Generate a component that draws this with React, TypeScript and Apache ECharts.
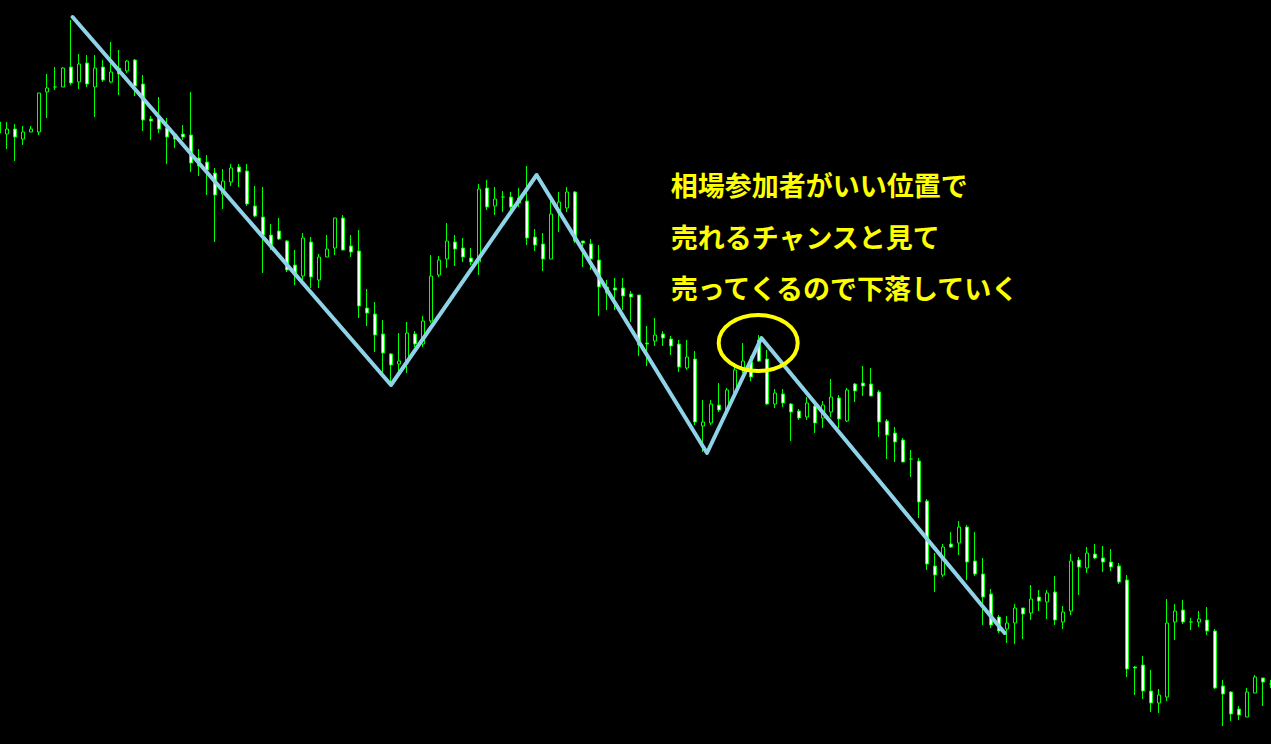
import React, { useEffect, useRef } from "react";
import * as echarts from "echarts";

// Price data (JPY-like quotes), one entry per candle, left to right
const openPrices = [
  118.78, 118.66, 118.71, 118.61, 118.68, 118.68, 119.08, 119.13, 119.13, 119.33,
  119.18, 119.37, 119.13, 119.33, 119.18, 119.32, 119.29, 119.40, 119.16, 118.81,
  118.83, 118.72, 118.66, 118.66, 118.65, 118.42, 118.38, 118.27, 118.06, 118.18,
  118.33, 118.29, 117.94, 117.83, 117.65, 117.69, 117.59, 117.35, 117.24, 117.58,
  117.20, 117.43, 117.52, 117.82, 117.54, 117.49, 116.92, 116.86, 116.66, 116.46,
  116.36, 116.37, 116.66, 116.56, 116.79, 117.25, 117.41, 117.58, 117.52, 117.42,
  117.38, 118.12, 117.94, 118.03, 118.03, 118.02, 117.99, 117.63, 117.56, 117.41,
  117.87, 117.92, 118.08, 117.59, 117.56, 117.40, 117.13, 117.12, 117.12, 117.06,
  117.05, 116.57, 116.59, 116.66, 116.61, 116.56, 116.32, 116.41, 115.74, 115.77,
  115.95, 115.90, 116.07, 116.32, 116.38, 116.60, 116.41, 115.96, 116.06, 115.96,
  115.89, 115.83, 115.94, 115.82, 115.88, 116.02, 115.79, 116.16, 116.17, 116.16,
  116.08, 115.79, 115.67, 115.60, 115.41, 115.39, 114.99, 114.34, 114.25, 114.56,
  114.57, 114.73, 114.39, 114.26, 114.06, 113.83, 113.71, 113.77, 113.92, 113.87,
  114.03, 113.98, 114.08, 113.78, 113.89, 114.40, 114.32, 114.46, 114.42, 114.38,
  114.34, 114.20, 113.33, 113.35, 113.09, 112.97, 113.03, 113.78, 113.90, 113.78,
  113.78, 113.80, 113.69, 113.14, 113.08, 112.91, 112.83, 113.07, 113.22, 113.16,
];
const closePrices = [
  118.67, 118.71, 118.63, 118.68, 118.71, 119.07, 119.12, 119.13, 119.32, 119.17,
  119.36, 119.16, 119.32, 119.20, 119.28, 119.26, 119.39, 119.14, 118.80, 118.79,
  118.71, 118.63, 118.61, 118.63, 118.37, 118.34, 118.30, 118.05, 118.19, 118.32,
  118.28, 117.96, 117.84, 117.65, 117.55, 117.61, 117.30, 117.25, 117.62, 117.23,
  117.43, 117.51, 117.82, 117.50, 117.48, 116.94, 116.87, 116.65, 116.47, 116.35,
  116.39, 116.67, 116.56, 116.79, 117.24, 117.40, 117.59, 117.51, 117.43, 117.38,
  118.11, 117.93, 118.01, 118.03, 117.93, 117.97, 117.62, 117.55, 117.41, 117.86,
  117.98, 118.08, 117.59, 117.57, 117.41, 117.13, 117.07, 117.10, 117.04, 117.03,
  116.55, 116.56, 116.65, 116.62, 116.54, 116.33, 116.43, 115.78, 115.78, 115.96,
  115.90, 116.10, 116.30, 116.39, 116.23, 116.39, 115.96, 116.07, 115.97, 115.88,
  115.82, 115.97, 115.77, 115.95, 116.03, 115.81, 116.10, 116.09, 116.14, 116.04,
  115.78, 115.65, 115.58, 115.38, 115.41, 114.98, 114.36, 114.25, 114.53, 114.53,
  114.73, 114.38, 114.26, 114.03, 113.75, 113.69, 113.77, 113.92, 113.86, 114.01,
  113.99, 114.07, 113.80, 113.88, 114.39, 114.33, 114.47, 114.42, 114.38, 114.33,
  114.18, 113.31, 113.32, 113.09, 112.97, 113.05, 113.77, 113.89, 113.78, 113.78,
  113.81, 113.69, 113.12, 113.06, 112.86, 112.85, 113.08, 113.23, 113.18, 113.16,
];
const lowPrices = [
  118.64, 118.51, 118.39, 118.55, 118.68, 118.65, 118.82, 119.10, 119.13, 119.15,
  119.11, 119.13, 118.83, 119.18, 119.17, 119.05, 119.27, 119.04, 118.69, 118.60,
  118.67, 118.36, 118.52, 118.60, 118.28, 118.24, 118.05, 117.58, 117.91, 118.14,
  118.13, 117.94, 117.83, 117.27, 117.50, 117.60, 117.28, 117.15, 117.20, 117.12,
  117.12, 117.43, 117.45, 117.50, 117.43, 116.82, 116.74, 116.48, 116.27, 116.17,
  116.28, 116.27, 116.53, 116.53, 116.77, 117.23, 117.32, 117.34, 117.38, 117.35,
  117.25, 117.90, 117.85, 117.88, 117.88, 117.93, 117.55, 117.49, 117.29, 117.41,
  117.68, 117.88, 117.57, 117.33, 117.30, 116.84, 116.90, 116.90, 116.90, 116.78,
  116.44, 116.34, 116.54, 116.54, 116.45, 116.28, 116.30, 115.75, 115.48, 115.75,
  115.88, 115.88, 116.05, 116.27, 116.19, 116.38, 115.95, 115.92, 115.93, 115.59,
  115.80, 115.80, 115.67, 115.72, 115.83, 115.72, 115.78, 115.98, 116.04, 116.04,
  115.63, 115.41, 115.38, 115.38, 115.23, 114.82, 114.30, 114.08, 114.23, 114.52,
  114.45, 114.20, 114.24, 113.75, 113.72, 113.67, 113.57, 113.56, 113.61, 113.80,
  113.89, 113.81, 113.75, 113.71, 113.85, 114.05, 114.27, 114.41, 114.28, 114.29,
  114.16, 113.23, 113.05, 113.01, 112.88, 112.87, 112.99, 113.60, 113.76, 113.70,
  113.73, 113.65, 113.11, 112.74, 112.79, 112.80, 112.83, 113.07, 112.94, 113.12,
];
const highPrices = [
  118.81, 118.78, 118.76, 118.74, 118.74, 119.07, 119.26, 119.33, 119.33, 119.80,
  119.46, 119.45, 119.45, 119.40, 119.58, 119.50, 119.40, 119.41, 119.25, 118.84,
  119.03, 118.82, 118.67, 118.75, 119.08, 118.51, 118.45, 118.32, 118.31, 118.36,
  118.36, 118.36, 118.14, 118.13, 117.76, 117.82, 117.60, 117.50, 117.67, 117.63,
  117.46, 117.65, 117.82, 117.85, 117.65, 117.70, 117.11, 116.98, 116.80, 116.47,
  116.67, 116.78, 116.69, 116.84, 117.45, 117.44, 117.77, 117.65, 117.62, 117.52,
  118.16, 118.20, 118.13, 118.09, 118.08, 118.12, 118.34, 117.71, 117.67, 118.02,
  118.08, 118.13, 118.09, 117.59, 117.61, 117.55, 117.20, 117.22, 117.22, 117.09,
  117.05, 116.74, 116.82, 116.69, 116.64, 116.60, 116.60, 116.49, 116.00, 116.00,
  116.17, 116.12, 116.37, 116.57, 116.44, 116.65, 116.50, 116.11, 116.11, 115.97,
  115.91, 116.03, 115.96, 115.99, 116.21, 116.05, 116.12, 116.17, 116.34, 116.32,
  116.10, 115.81, 115.73, 115.62, 115.50, 115.42, 115.01, 114.47, 114.56, 114.68,
  114.79, 114.75, 114.68, 114.42, 114.11, 113.85, 113.84, 113.96, 113.92, 114.15,
  114.10, 114.10, 114.24, 113.94, 114.46, 114.43, 114.53, 114.56, 114.54, 114.51,
  114.37, 114.25, 113.34, 113.44, 113.30, 113.11, 114.01, 113.96, 114.00, 113.82,
  113.89, 113.93, 113.71, 113.20, 113.09, 112.94, 113.12, 113.25, 113.22, 113.20,
];

// Hand-drawn zigzag annotation (candle position, price)
const zigzagIndex = [9.2, 49, 67.2, 88.5, 95.3, 125.7];
const zigzagPrice = [119.83, 116.15, 118.25, 115.47, 116.62, 113.67];

// Highlight ellipse around the last pullback high (candle position, price)
const ellipseIndex = 94.9;
const ellipsePrice = 116.57;

const noteLines = [
  "相場参加者がいい位置で",
  "売れるチャンスと見て",
  "売ってくるので下落していく",
];

const categories = openPrices.map((_, i) => String(i + 1));

const SHIFT = 4.67; // the chart box starts slightly left of the window edge

export default function App() {
  const ref = useRef<HTMLDivElement>(null);

  useEffect(() => {
    if (!ref.current) return;
    const chart = echarts.init(ref.current, undefined, { renderer: "svg" });
    const candleData = openPrices.map((o, i) => [o, closePrices[i], lowPrices[i], highPrices[i]]);
    const zigzag = zigzagIndex.map((x, i) => [x, zigzagPrice[i]]);
    const n = categories.length;

    chart.setOption({
      animation: false,
      backgroundColor: "#000000",
      grid: { left: 0, top: 0, right: 0, bottom: 0, containLabel: false },
      xAxis: [
        { type: "category", data: categories, boundaryGap: true, show: false },
        { type: "value", min: -0.5, max: n - 0.5, show: false },
      ],
      yAxis: { type: "value", min: 112.56, max: 120, show: false, scale: true },
      series: [
        {
          type: "candlestick",
          data: candleData,
          barWidth: 4,
          xAxisIndex: 0,
          itemStyle: {
            color: "#000000",
            color0: "#ffffff",
            borderColor: "#00ff00",
            borderColor0: "#00ff00",
            borderColorDoji: "#00ff00",
            borderWidth: 1,
          },
          z: 2,
        },
        {
          type: "line",
          xAxisIndex: 1,
          data: zigzag,
          symbol: "none",
          lineStyle: { color: "#8fd3e8", width: 4, cap: "round", join: "round" },
          z: 5,
        },
      ],
    });

    const [cx, cy] = chart.convertToPixel({ xAxisIndex: 1, yAxisIndex: 0 }, [ellipseIndex, ellipsePrice]) as number[];

    chart.setOption({
      graphic: [
        {
          type: "ellipse",
          shape: { cx, cy, rx: 39.5, ry: 28 },
          style: { fill: "none", stroke: "#ffff00", lineWidth: 4 },
          z: 10,
        },
        ...noteLines.map((t, i) => ({
          type: "text",
          x: 671 + SHIFT,
          y: [184, 236, 287][i],
          style: {
            text: t,
            fill: "#ffff00",
            font: 'bold 27px "Noto Sans CJK JP"',
            verticalAlign: "middle",
            align: "left",
          },
          z: 10,
        })),
      ],
    });

    return () => chart.dispose();
  }, []);

  return (
    <div
      ref={ref}
      style={{ position: "fixed", left: -SHIFT, top: 0, width: 1280, height: 744, background: "#000" }}
    />
  );
}
